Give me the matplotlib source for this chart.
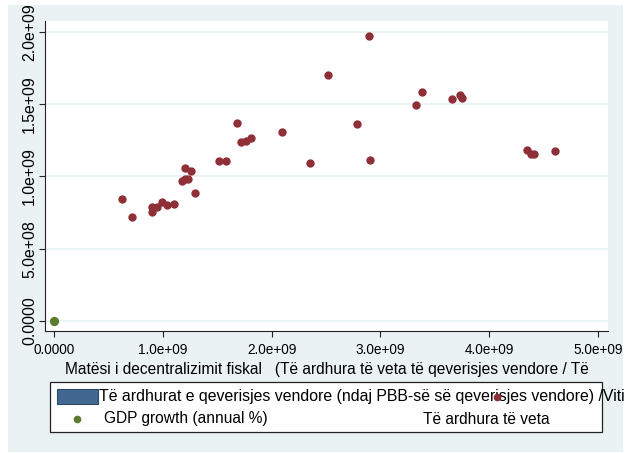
#!/usr/bin/env python3
"""Own-source revenue of local government vs. fiscal decentralisation measure."""

import matplotlib

matplotlib.use("Agg")
import matplotlib.pyplot as plt
from matplotlib.lines import Line2D
from matplotlib.patches import Rectangle

plt.rcParams["font.family"] = ["Liberation Sans", "DejaVu Sans"]

# Të ardhura të veta (local own revenue), both axes in units of 1e9
own_rev_x = [0.621, 0.718, 0.902, 0.905, 0.951, 0.994, 1.043, 1.104, 1.180, 1.205,
             1.202, 1.232, 1.257, 1.300, 1.517, 1.584, 1.685, 1.722, 1.768, 1.807,
             2.092, 2.355, 2.523, 2.786, 2.893, 2.902, 3.324, 3.382, 3.658, 3.734,
             3.752, 4.346, 4.382, 4.413, 4.606]
own_rev_y = [0.847, 0.717, 0.790, 0.757, 0.790, 0.826, 0.803, 0.808, 0.972, 0.980,
             1.060, 0.986, 1.040, 0.889, 1.109, 1.109, 1.368, 1.241, 1.248, 1.269,
             1.308, 1.095, 1.701, 1.361, 1.972, 1.113, 1.498, 1.583, 1.533, 1.565,
             1.540, 1.181, 1.157, 1.155, 1.178]

# GDP growth sits at the origin on this scale
gdp_x = [0.0]
gdp_y = [0.0]

x_ticks = [0, 1, 2, 3, 4, 5]
x_tick_labels = ["0.0000", "1.0e+09", "2.0e+09", "3.0e+09", "4.0e+09", "5.0e+09"]
y_ticks = [0, 0.5, 1.0, 1.5, 2.0]
y_tick_labels = ["0.0000", "5.0e+08", "1.0e+09", "1.5e+09", "2.0e+09"]

x_title = "Matësi i decentralizimit fiskal   (Të ardhura të veta të qeverisjes vendore / Të"
legend_labels = [
    "Të ardhurat e qeverisjes vendore (ndaj PBB-së së qeverisjes vendore) /Viti",
    "GDP growth (annual %)",
    "Të ardhura të veta",
]

W, H = 628, 453
BG = "#eaf2f3"
RED = "#8f2f37"
GREEN = "#5b7a2b"
BLUE = "#426891"
TXT = 11.2


def fx(px):
    return px / W


def fy(py):
    return 1 - py / H


def main() -> None:
    fig = plt.figure(figsize=(W / 100, H / 100), dpi=100, facecolor="white")
    fig.add_artist(Rectangle((fx(8), fy(452)), fx(615), (452 - 5) / H,
                             transform=fig.transFigure, facecolor=BG,
                             edgecolor="none", zorder=0))

    ax = fig.add_axes([fx(45), fy(331), fx(563), (331 - 21) / H])
    ax.set_facecolor("white")
    ax.scatter(own_rev_x, own_rev_y, s=36, color=RED, linewidths=0, zorder=3)
    ax.scatter(gdp_x, gdp_y, s=44, color=GREEN, linewidths=0, zorder=3)

    ax.set_xlim(-0.0827, 5.092)
    ax.set_ylim(-0.0692, 2.076)
    ax.set_xticks(x_ticks)
    ax.set_xticklabels(x_tick_labels, fontsize=9.8)
    ax.set_yticks(y_ticks)
    ax.set_yticklabels(y_tick_labels, fontsize=11.4, rotation=90, va="center")
    ax.tick_params(direction="out", length=4.3, width=0.8, color="#222222")
    ax.tick_params(axis="x", pad=4)
    ax.tick_params(axis="y", pad=1.5)
    ax.grid(axis="y", color=BG, linewidth=1.3)
    ax.set_axisbelow(True)
    for side in ("top", "right"):
        ax.spines[side].set_visible(False)
    for side in ("left", "bottom"):
        ax.spines[side].set_color("#222222")
        ax.spines[side].set_linewidth(0.8)
    ax.set_xlabel(x_title, fontsize=TXT, labelpad=4)

    # legend, laid out by hand
    fig.add_artist(Rectangle((fx(50), fy(432)), fx(552), 50 / H,
                             transform=fig.transFigure, facecolor="white",
                             edgecolor="#222222", linewidth=0.9, zorder=1))
    fig.add_artist(Rectangle((fx(57), fy(404)), fx(41), 15 / H,
                             transform=fig.transFigure, facecolor=BLUE,
                             edgecolor="#2c4a6a", linewidth=0.8, zorder=2))
    fig.text(fx(99), fy(396), legend_labels[0], fontsize=11.4, va="center", zorder=3)
    fig.add_artist(Line2D([fx(77)], [fy(419)], marker="o", markersize=4.5,
                          color=GREEN, linestyle="none", transform=fig.transFigure,
                          zorder=3))
    fig.text(fx(104), fy(419), legend_labels[1], fontsize=TXT, va="center", zorder=3)
    fig.add_artist(Line2D([fx(497)], [fy(397)], marker="o", markersize=4.5,
                          color=RED, linestyle="none", transform=fig.transFigure,
                          zorder=4))
    fig.text(fx(423), fy(419), legend_labels[2], fontsize=TXT, va="center", zorder=3)

    fig.savefig("out.png", dpi=100, facecolor="white")
    plt.close(fig)


if __name__ == "__main__":
    main()
